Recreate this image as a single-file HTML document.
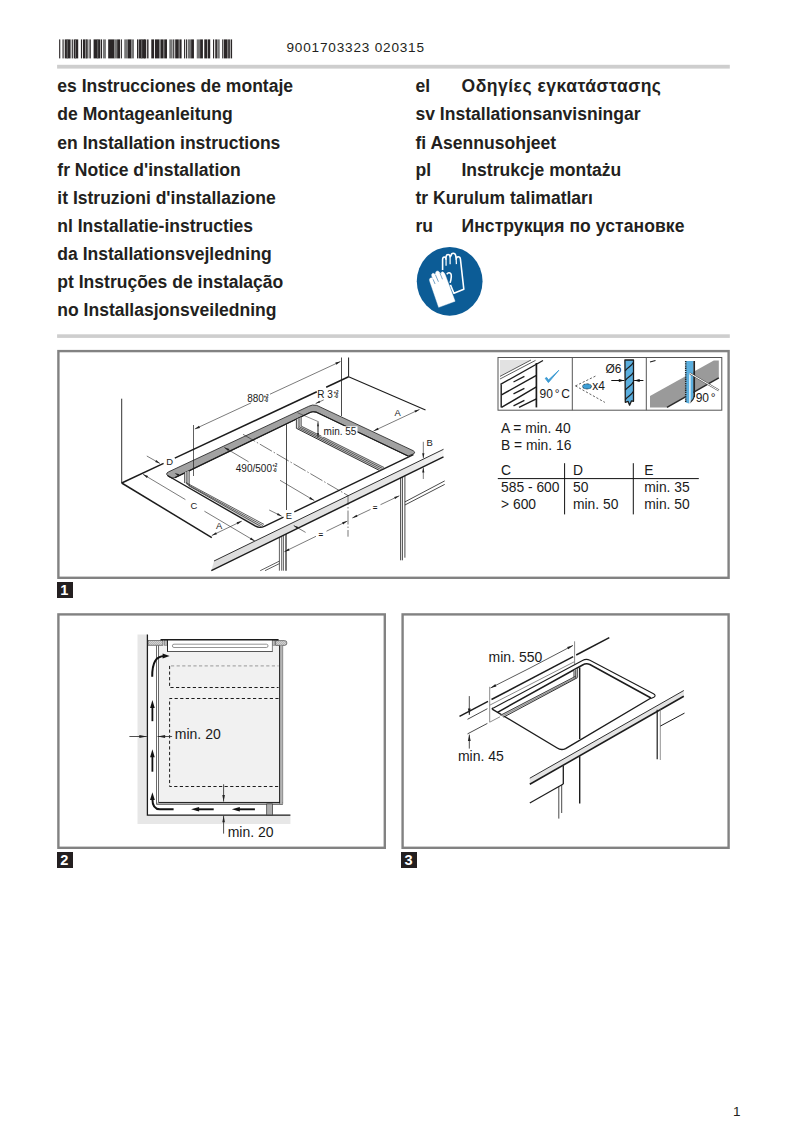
<!DOCTYPE html>
<html lang="en"><head><meta charset="utf-8"><title>Installation instructions</title>
<style>
html,body{margin:0;padding:0;background:#fff;}
body{width:802px;height:1134px;position:relative;overflow:hidden;font-family:"Liberation Sans",sans-serif;color:#231f20;}
.h{position:absolute;font-weight:bold;font-size:17.55px;line-height:20px;white-space:nowrap;color:#231f20;}
.num{position:absolute;left:286.5px;top:37.5px;font-size:13.6px;line-height:20px;letter-spacing:0.8px;color:#231f20;white-space:nowrap;}
.rule{position:absolute;left:57px;width:673px;height:3.5px;background:#cfcfcf;}
.frame{position:absolute;border:2.4px solid #858585;box-sizing:border-box;}
.lab{position:absolute;width:15.8px;height:15.8px;background:#231f20;color:#fff;font-weight:bold;font-size:14.6px;line-height:16.2px;text-align:center;text-indent:-1.2px;}
.pg{position:absolute;left:733px;top:1102.8px;font-size:13.5px;line-height:18px;}
svg{position:absolute;left:0;top:0;}
#pg{position:absolute;left:0;top:0;width:802px;height:1134px;}
svg text{font-family:"Liberation Sans",sans-serif;}
</style></head><body><div id="pg">

<div class="num">9001703323 020315</div>
<div class="h" style="left:57.3px;top:75.5px">es Instrucciones de montaje</div>
<div class="h" style="left:57.3px;top:104.4px">de Montageanleitung</div>
<div class="h" style="left:57.3px;top:133.4px">en Installation instructions</div>
<div class="h" style="left:57.3px;top:160.3px">fr Notice d'installation</div>
<div class="h" style="left:57.3px;top:188.3px">it Istruzioni d'installazione</div>
<div class="h" style="left:57.3px;top:216.2px">nl Installatie-instructies</div>
<div class="h" style="left:57.3px;top:244.1px">da Installationsvejledning</div>
<div class="h" style="left:57.3px;top:272.1px">pt Instruções de instalação</div>
<div class="h" style="left:57.3px;top:300.0px">no Installasjonsveiledning</div>
<div class="h" style="left:415.5px;top:75.5px">el</div>
<div class="h" style="left:461.5px;top:75.5px;letter-spacing:0.5px;">Οδηγίες εγκατάστασης</div>
<div class="h" style="left:415.5px;top:104.4px">sv Installationsanvisningar</div>
<div class="h" style="left:415.5px;top:133.4px">fi Asennusohjeet</div>
<div class="h" style="left:415.5px;top:160.3px">pl</div>
<div class="h" style="left:461.5px;top:160.3px;">Instrukcje montażu</div>
<div class="h" style="left:415.5px;top:188.3px">tr Kurulum talimatları</div>
<div class="h" style="left:415.5px;top:216.2px">ru</div>
<div class="h" style="left:461.5px;top:216.2px;letter-spacing:0.07px;">Инструкция по установке</div>
<div class="lab" style="left:57px;top:582.2px">1</div>
<div class="lab" style="left:57px;top:852.2px">2</div>
<div class="lab" style="left:401.2px;top:852.2px">3</div>
<div class="pg">1</div>
<svg width="802" height="1134" viewBox="0 0 802 1134">
<g id="rules" fill="#cecece"><rect x="57.1" y="64.8" width="672.7" height="3.8"/><rect x="57.1" y="334.3" width="672.7" height="3.6"/></g>
<g id="frames" fill="none" stroke="#828282" stroke-width="2.4"><rect x="58.4" y="351.1" width="670.2" height="226.7"/><rect x="58.4" y="614.4" width="326.4" height="233.4"/><rect x="402.6" y="614.4" width="326" height="233.4"/></g>
<g id="barcode"><rect x="59.14" y="39.4" width="1.12" height="19" fill="#2a2627"/><rect x="62.51" y="39.4" width="1.12" height="19" fill="#2a2627"/><rect x="64.75" y="39.4" width="5.84" height="19" fill="#2a2627"/><rect x="66.77" y="39.4" width="0.90" height="19" fill="#777"/><rect x="71.71" y="39.4" width="1.12" height="19" fill="#2a2627"/><rect x="73.73" y="39.4" width="4.49" height="19" fill="#2a2627"/><rect x="75.08" y="39.4" width="0.90" height="19" fill="#777"/><rect x="80.91" y="39.4" width="1.12" height="19" fill="#2a2627"/><rect x="82.93" y="39.4" width="2.47" height="19" fill="#2a2627"/><rect x="85.40" y="39.4" width="3.14" height="19" fill="#777"/><rect x="86.30" y="39.4" width="0.90" height="19" fill="#2a2627"/><rect x="89.44" y="39.4" width="1.35" height="19" fill="#2a2627"/><rect x="93.59" y="39.4" width="6.73" height="19" fill="#2a2627"/><rect x="97.30" y="39.4" width="0.90" height="19" fill="#777"/><rect x="100.89" y="39.4" width="1.12" height="19" fill="#2a2627"/><rect x="102.91" y="39.4" width="3.03" height="19" fill="#777"/><rect x="108.18" y="39.4" width="6.17" height="19" fill="#2a2627"/><rect x="114.35" y="39.4" width="2.81" height="19" fill="#777"/><rect x="117.16" y="39.4" width="3.03" height="19" fill="#2a2627"/><rect x="121.09" y="39.4" width="0.90" height="19" fill="#2a2627"/><rect x="124.23" y="39.4" width="3.59" height="19" fill="#777"/><rect x="127.82" y="39.4" width="3.59" height="19" fill="#2a2627"/><rect x="131.41" y="39.4" width="2.58" height="19" fill="#777"/><rect x="137.02" y="39.4" width="1.46" height="19" fill="#2a2627"/><rect x="139.04" y="39.4" width="5.61" height="19" fill="#2a2627"/><rect x="141.29" y="39.4" width="0.90" height="19" fill="#777"/><rect x="144.00" y="39.4" width="2.24" height="19" fill="#2a2627"/><rect x="147.14" y="39.4" width="1.35" height="19" fill="#2a2627"/><rect x="151.29" y="39.4" width="2.81" height="19" fill="#2a2627"/><rect x="155.00" y="39.4" width="4.15" height="19" fill="#2a2627"/><rect x="159.15" y="39.4" width="1.68" height="19" fill="#777"/><rect x="160.83" y="39.4" width="2.81" height="19" fill="#2a2627"/><rect x="164.20" y="39.4" width="2.81" height="19" fill="#2a2627"/><rect x="169.25" y="39.4" width="3.37" height="19" fill="#777"/><rect x="173.18" y="39.4" width="1.12" height="19" fill="#2a2627"/><rect x="175.20" y="39.4" width="3.59" height="19" fill="#2a2627"/><rect x="179.35" y="39.4" width="2.24" height="19" fill="#2a2627"/><rect x="184.06" y="39.4" width="1.12" height="19" fill="#2a2627"/><rect x="186.08" y="39.4" width="1.12" height="19" fill="#2a2627"/><rect x="187.99" y="39.4" width="3.14" height="19" fill="#777"/><rect x="191.13" y="39.4" width="2.81" height="19" fill="#2a2627"/><rect x="196.74" y="39.4" width="3.37" height="19" fill="#777"/><rect x="200.11" y="39.4" width="2.81" height="19" fill="#2a2627"/><rect x="204.26" y="39.4" width="3.14" height="19" fill="#2a2627"/><rect x="207.97" y="39.4" width="2.24" height="19" fill="#2a2627"/><rect x="213.02" y="39.4" width="1.12" height="19" fill="#2a2627"/><rect x="215.26" y="39.4" width="1.68" height="19" fill="#2a2627"/><rect x="217.17" y="39.4" width="2.58" height="19" fill="#777"/><rect x="222.22" y="39.4" width="1.12" height="19" fill="#2a2627"/><rect x="223.90" y="39.4" width="3.70" height="19" fill="#2a2627"/><rect x="228.17" y="39.4" width="1.68" height="19" fill="#2a2627"/><rect x="230.63" y="39.4" width="1.46" height="19" fill="#2a2627"/></g>
<g id="glove"><g transform="translate(405,240) scale(0.11222)">
<ellipse cx="398" cy="368" rx="293" ry="306" fill="#0c5c96"/>
<path d="M335,268 L335,175 Q336,152 350,152 Q364,152 366,172 L366,150 Q368,130 384,130 Q400,130 402,150 L410,140 Q412,118 430,118 Q448,118 452,140 L456,170 Q458,150 474,150 Q492,150 494,172 L524,438 L436,474 L405,400" fill="none" stroke="#fff" stroke-width="14" stroke-linejoin="round"/>
<path d="M372,305 Q392,282 408,300 Q420,320 402,382" fill="none" stroke="#fff" stroke-width="14"/>
<path d="M366,172 L366,230 M402,150 L402,215 M456,170 L458,215" stroke="#fff" stroke-width="11" fill="none"/>
<path d="M300,600 L222,372 Q212,345 228,338 Q240,334 250,350 L238,320 Q234,300 248,296 Q262,294 270,312 L272,296 Q272,278 288,276 Q302,276 310,292 L322,300 Q322,282 336,284 Q350,288 358,310 L400,420 L446,546 Z" fill="#fff" stroke="#fff" stroke-width="4" stroke-linejoin="round"/>
<path d="M250,350 L268,392 M272,312 L298,372 M312,296 L334,350" stroke="#0c5c96" stroke-width="5" fill="none"/>
</g></g>
<g id="fig1"><line x1="121.7" y1="398.7" x2="121.7" y2="483" stroke="#1c1c1c" stroke-width="0.9" />
<line x1="121.7" y1="483.0" x2="163.6" y2="463.4" stroke="#1c1c1c" stroke-width="1.5" />
<line x1="174.8" y1="458.1" x2="316.8" y2="391.7" stroke="#1c1c1c" stroke-width="1.5" />
<line x1="326.2" y1="387.3" x2="348.6" y2="376.8" stroke="#1c1c1c" stroke-width="1.5" />
<line x1="121.7" y1="483" x2="211.8" y2="537.6" stroke="#1c1c1c" stroke-width="1.5" />
<line x1="348.6" y1="357.5" x2="348.6" y2="376.8" stroke="#1c1c1c" stroke-width="1.0" />
<line x1="341.5" y1="357.5" x2="341.5" y2="416" stroke="#1c1c1c" stroke-width="0.8" />
<line x1="348.6" y1="376.8" x2="425.5" y2="410" stroke="#1c1c1c" stroke-width="1.2" />
<line x1="286.5" y1="424.3" x2="286.5" y2="510" stroke="#1c1c1c" stroke-width="0.8" />
<line x1="251.1" y1="402.9" x2="194.8" y2="429.0" stroke="#222" stroke-width="0.6"/><polygon points="194.8,429.0 199.0,425.8 200.0,427.9" fill="#222"/>
<line x1="270.0" y1="394.2" x2="340.5" y2="361.5" stroke="#222" stroke-width="0.6"/><polygon points="340.5,361.5 336.3,364.7 335.3,362.6" fill="#222"/>
<path d="M166.6,474.2 Q166.4,472.9 168.7,471.8 L308.7,406.3 Q312.4,404.2 316.8,405.4 L413.2,450.7 Q416,452.2 413.8,453.8 L408,456 L316.4,412.2 Q312.4,411.2 310,412.5 L175,477.6 L172,478.2 Q167.5,476.8 166.6,474.2 Z" fill="#a2a2a2" stroke="#1c1c1c" stroke-width="0.8" stroke-linejoin="round"/>
<path d="M175,477.6 L310,412.5 Q312.4,411.2 316.4,412.2 L408,456" fill="none" stroke="#1c1c1c" stroke-width="1.2"/>
<line x1="193.5" y1="425" x2="193.5" y2="476" stroke="#1c1c1c" stroke-width="0.7" />
<polygon points="296.4,419.3 301.2,417.2 301.2,426.1 384.1,467.5 378.9,470.2 296.4,428.3" fill="#d4d4d4"/>
<line x1="296.4" y1="419.3" x2="296.4" y2="428.3" stroke="#1c1c1c" stroke-width="0.8" />
<line x1="299" y1="418.2" x2="299" y2="427.2" stroke="#1c1c1c" stroke-width="0.7" />
<line x1="301.2" y1="417.2" x2="301.2" y2="426.1" stroke="#1c1c1c" stroke-width="0.7" />
<line x1="301.2" y1="426.1" x2="384.1" y2="467.5" stroke="#1c1c1c" stroke-width="0.7" />
<line x1="299.6" y1="426.9" x2="382.4" y2="468.4" stroke="#1c1c1c" stroke-width="0.7" />
<line x1="298" y1="427.6" x2="380.6" y2="469.3" stroke="#1c1c1c" stroke-width="0.7" />
<line x1="296.4" y1="428.3" x2="378.9" y2="470.2" stroke="#1c1c1c" stroke-width="0.9" />
<polygon points="184.6,472.6 189.2,470.5 189.2,485.6 262,525.4 256,526.2 184.6,483" fill="#d4d4d4"/>
<line x1="184.6" y1="472.4" x2="184.6" y2="483" stroke="#1c1c1c" stroke-width="0.7" />
<line x1="186.9" y1="471.4" x2="186.9" y2="484.3" stroke="#1c1c1c" stroke-width="0.7" />
<line x1="189.2" y1="470.4" x2="189.2" y2="485.6" stroke="#1c1c1c" stroke-width="0.7" />
<line x1="186" y1="482.6" x2="264" y2="524.4" stroke="#1c1c1c" stroke-width="0.7" />
<line x1="187.2" y1="484.3" x2="263" y2="525.6" stroke="#1c1c1c" stroke-width="0.7" />
<line x1="188.5" y1="485.7" x2="261.5" y2="526.8" stroke="#1c1c1c" stroke-width="0.7" />
<path d="M167.5,475.5 L255.5,526.2 Q259.9,528.6 264.8,526.1 L283.5,517.1" fill="none" stroke="#1c1c1c" stroke-width="1.4"/>
<line x1="294.3" y1="511.9" x2="413.4" y2="454.6" stroke="#1c1c1c" stroke-width="1.4" />
<line x1="146.8" y1="456.0" x2="159.9" y2="463.4" stroke="#222" stroke-width="0.6"/><polygon points="159.9,463.4 155.2,462.0 156.3,460.1" fill="#222"/>
<polygon points="174.6,473.0 179.3,474.3 178.3,476.3" fill="#222"/>
<line x1="185.4" y1="499.6" x2="143.0" y2="474.3" stroke="#222" stroke-width="0.6"/><polygon points="143.0,474.3 148.1,476.0 146.9,478.0" fill="#222"/>
<line x1="204.4" y1="511.2" x2="254.9" y2="541.1" stroke="#222" stroke-width="0.6"/><polygon points="254.9,541.1 249.8,539.4 251.0,537.5" fill="#222"/>
<line x1="248.6" y1="461.8" x2="224.3" y2="447.4" stroke="#222" stroke-width="0.6"/><polygon points="224.3,447.4 229.4,449.1 228.2,451.0" fill="#222"/>
<line x1="280.0" y1="480.3" x2="314.3" y2="500.6" stroke="#222" stroke-width="0.6"/><polygon points="314.3,500.6 309.2,498.9 310.4,497.0" fill="#222"/>
<line x1="373.5" y1="431.0" x2="419.6" y2="409.4" stroke="#222" stroke-width="0.6"/><polygon points="419.6,409.4 415.4,412.6 414.4,410.6" fill="#222"/><polygon points="373.5,431.0 378.7,429.8 377.7,427.8" fill="#222"/>
<line x1="211.8" y1="535.5" x2="241.8" y2="521.1" stroke="#222" stroke-width="0.6"/><polygon points="241.8,521.1 237.6,524.4 236.6,522.3" fill="#222"/><polygon points="211.8,535.5 217.0,534.3 216.0,532.2" fill="#222"/>
<line x1="269.2" y1="510.0" x2="281.7" y2="516.2" stroke="#222" stroke-width="0.6"/><polygon points="281.7,516.2 276.9,515.1 277.9,513.1" fill="#222"/>
<line x1="423.3" y1="441.8" x2="423.3" y2="458.2" stroke="#222" stroke-width="0.6"/><polygon points="423.3,458.2 422.2,453.2 424.4,453.2" fill="#222"/>
<line x1="423.3" y1="479.0" x2="423.3" y2="467.6" stroke="#222" stroke-width="0.6"/><polygon points="423.3,467.6 424.4,472.6 422.2,472.6" fill="#222"/>
<defs><linearGradient id="wf" x1="0" x2="1" y1="0" y2="0"><stop offset="0" stop-color="#dcdcdc"/><stop offset="0.85" stop-color="#e6e6e6"/><stop offset="1" stop-color="#f4f4f4"/></linearGradient></defs>
<polygon points="214,561 443.5,449.3 443.5,456.8 211.3,570.7" fill="url(#wf)"/>
<line x1="214" y1="561" x2="443.5" y2="449.3" stroke="#1c1c1c" stroke-width="0.9" />
<line x1="211.3" y1="570.7" x2="443.5" y2="456.8" stroke="#1c1c1c" stroke-width="1.5" />
<path d="M243,434.3 L348,495.6 L348,536.7" fill="none" stroke="#1c1c1c" stroke-width="0.6" stroke-dasharray="14 2 1.5 2"/>
<line x1="305.6" y1="532.4" x2="293.7" y2="525.5" stroke="#222" stroke-width="0.6"/><polygon points="293.7,525.5 298.4,527.0 297.3,528.9" fill="#222"/>
<line x1="316.0" y1="536.3" x2="284.4" y2="551.7" stroke="#222" stroke-width="0.6"/><polygon points="284.4,551.7 288.6,548.4 289.6,550.5" fill="#222"/>
<line x1="326.5" y1="531.2" x2="347.3" y2="521.1" stroke="#222" stroke-width="0.6"/><polygon points="347.3,521.1 343.1,524.4 342.1,522.3" fill="#222"/>
<line x1="370.5" y1="509.4" x2="352.3" y2="518.0" stroke="#222" stroke-width="0.6"/><polygon points="352.3,518.0 356.5,514.7 357.5,516.8" fill="#222"/>
<line x1="380.5" y1="504.7" x2="399.3" y2="495.8" stroke="#222" stroke-width="0.6"/><polygon points="399.3,495.8 395.1,499.1 394.1,497.0" fill="#222"/>
<line x1="279.4" y1="537.3" x2="279.4" y2="570.7" stroke="#1c1c1c" stroke-width="0.7" />
<line x1="281.7" y1="536.2" x2="281.7" y2="570.7" stroke="#1c1c1c" stroke-width="0.7" />
<line x1="283.4" y1="535.3" x2="283.4" y2="570.7" stroke="#1c1c1c" stroke-width="0.7" />
<line x1="286" y1="534.1" x2="286" y2="570.7" stroke="#1c1c1c" stroke-width="1.2" />
<line x1="260.2" y1="570.7" x2="279.4" y2="561.1" stroke="#1c1c1c" stroke-width="0.7" />
<line x1="265" y1="570.7" x2="279.4" y2="563.6" stroke="#1c1c1c" stroke-width="0.7" />
<line x1="400.6" y1="477.8" x2="400.6" y2="560.3" stroke="#1c1c1c" stroke-width="0.8" />
<line x1="402.4" y1="477.0" x2="402.4" y2="560.3" stroke="#1c1c1c" stroke-width="0.8" />
<line x1="404.9" y1="475.7" x2="404.9" y2="557.7" stroke="#1c1c1c" stroke-width="0.8" />
<line x1="404.9" y1="501.9" x2="444.7" y2="480.9" stroke="#1c1c1c" stroke-width="0.8" />
<line x1="404.9" y1="505" x2="444.7" y2="484.4" stroke="#1c1c1c" stroke-width="0.8" />
<line x1="297.5" y1="412.7" x2="318.7" y2="421.8" stroke="#1c1c1c" stroke-width="0.5" />
<line x1="318.0" y1="432.0" x2="318.0" y2="421.8" stroke="#222" stroke-width="0.6"/><polygon points="318.0,421.8 319.0,426.4 317.0,426.4" fill="#222"/>
<line x1="318.0" y1="427.0" x2="318.0" y2="437.4" stroke="#222" stroke-width="0.6"/><polygon points="318.0,437.4 317.0,432.8 319.0,432.8" fill="#222"/>
<rect x="321.5" y="426.3" width="36" height="10.5" fill="#fff"/>
<line x1="323.7" y1="399.9" x2="315.6" y2="403.6" stroke="#222" stroke-width="0.6"/><polygon points="315.6,403.6 319.4,400.8 320.2,402.6" fill="#222"/>
<g font-size="10" fill="#1a1a1a">
<text x="247.2" y="401.8" font-size="10" >880</text>
<text x="263.6" y="397.6" font-size="4.6" letter-spacing="-0.3" font-weight="bold">+2</text>
<text x="264.2" y="401.8" font-size="4.6" letter-spacing="-0.3" font-weight="bold">-0</text>
<text x="317.2" y="398" font-size="10" >R 3</text>
<text x="333.6" y="393.6" font-size="4.6" letter-spacing="-0.3" font-weight="bold">+2</text>
<text x="334.2" y="398" font-size="4.6" letter-spacing="-0.3" font-weight="bold">-0</text>
<text x="323.6" y="435.2" font-size="10" >min. 55</text>
<text x="235.8" y="471.6" font-size="10" >490/500</text>
<text x="272.3" y="467.4" font-size="4.6" letter-spacing="-0.3" font-weight="bold">+2</text>
<text x="272.9" y="471.6" font-size="4.6" letter-spacing="-0.3" font-weight="bold">-0</text>
<text x="166.3" y="464.5" font-size="9.4" >D</text>
<text x="190.6" y="508.6" font-size="9.4" >C</text>
<text x="285.8" y="518.7" font-size="9.4" >E</text>
<text x="394.6" y="416" font-size="9.4" >A</text>
<text x="216" y="528.6" font-size="9.4" >A</text>
<text x="426.5" y="445.6" font-size="9.4" >B</text>
<text x="318.5" y="537" font-size="8" font-weight="bold">=</text>
<text x="372.8" y="510" font-size="8" font-weight="bold">=</text>
</g></g>
<g id="icons"><rect x="498" y="357.5" width="223.8" height="52.7" fill="#fff" stroke="#555" stroke-width="1"/>
<line x1="572.3" y1="357.5" x2="572.3" y2="410.2" stroke="#555" stroke-width="1" />
<line x1="646.3" y1="357.5" x2="646.3" y2="410.2" stroke="#555" stroke-width="1" />
<polygon points="500,360 531,360 500,376.4" fill="#e2e2e2"/>
<line x1="500" y1="376.4" x2="531" y2="360" stroke="#333" stroke-width="0.8" />
<line x1="500" y1="379" x2="535.5" y2="360.4" stroke="#333" stroke-width="0.8" />
<line x1="500.5" y1="384.4" x2="543" y2="360.5" stroke="#1c1c1c" stroke-width="1.4" />
<line x1="536.4" y1="363" x2="536.4" y2="407.4" stroke="#1c1c1c" stroke-width="1.7" />
<line x1="501.2" y1="384.4" x2="501.2" y2="407.4" stroke="#1c1c1c" stroke-width="1.4" />
<line x1="501.5" y1="394.9" x2="536.4" y2="375.4" stroke="#1c1c1c" stroke-width="1.4" />
<line x1="501.5" y1="407.4" x2="536.4" y2="386.9" stroke="#1c1c1c" stroke-width="1.4" />
<line x1="519" y1="407.4" x2="536.4" y2="398.9" stroke="#1c1c1c" stroke-width="1.4" />
<line x1="513.5" y1="382" x2="524.4" y2="376.4" stroke="#1c1c1c" stroke-width="1.3" />
<line x1="513.5" y1="393.9" x2="524.4" y2="388.29999999999995" stroke="#1c1c1c" stroke-width="1.3" />
<line x1="513.5" y1="405.9" x2="524.4" y2="400.29999999999995" stroke="#1c1c1c" stroke-width="1.3" />
<path d="M545.2,378.3 L548.4,382.6 L558.8,370.3 L548.5,380 L546.6,377.4 Z" fill="#3b9ad2" stroke="#3b9ad2" stroke-width="0.9" stroke-linejoin="round"/>
<text x="539.6" y="398.3" font-size="12" fill="#1a1a1a">90</text>
<text x="554.8" y="398.3" font-size="12" fill="#1a1a1a">°</text>
<text x="561.3" y="398.3" font-size="12" fill="#1a1a1a">C</text>
<line x1="575.5" y1="385.9" x2="595.9" y2="375.9" stroke="#1c1c1c" stroke-width="0.7" stroke-dasharray="2.2 1.8"/>
<line x1="575.5" y1="385.9" x2="604.9" y2="402.4" stroke="#1c1c1c" stroke-width="0.7" stroke-dasharray="2.2 1.8"/>
<ellipse cx="587" cy="386.4" rx="4.5" ry="2.6" fill="#3f9fd6" stroke="#1c1c1c" stroke-width="0.6" stroke-dasharray="3 1"/>
<text x="592.2" y="389.9" font-size="12" fill="#1a1a1a">x4</text>
<text x="605.4" y="373" font-size="12" fill="#1a1a1a">Ø6</text>
<path d="M624.9,360 L633.5,360 L633.5,401.3 L631.5,400.8 L629.6,405.2 L628,401.3 L625.3,402.3 Z" fill="#5aaede" stroke="#1c1c1c" stroke-width="1.3" stroke-linejoin="round"/>
<path d="M633.3,362.6 C631,367.1 628,366.6 625.2,370.8" fill="none" stroke="#1c1c1c" stroke-width="1.2"/>
<path d="M633.3,372.4 C631,376.9 628,376.4 625.2,380.59999999999997" fill="none" stroke="#1c1c1c" stroke-width="1.2"/>
<path d="M633.3,382 C631,386.5 628,386 625.2,390.2" fill="none" stroke="#1c1c1c" stroke-width="1.2"/>
<path d="M633.3,391.6 C631,396.1 628,395.6 625.2,399.8" fill="none" stroke="#1c1c1c" stroke-width="1.2"/>
<line x1="611.3" y1="380.5" x2="624.3" y2="380.5" stroke="#111" stroke-width="1.0"/><polygon points="624.3,380.5 618.8,381.9 618.8,379.1" fill="#111"/>
<line x1="643.4" y1="380.5" x2="634.2" y2="380.5" stroke="#111" stroke-width="1.0"/><polygon points="634.2,380.5 639.7,379.1 639.7,381.9" fill="#111"/>
<polygon points="650,395.9 713.8,360.5 718.8,360.5 718.8,377.9 667,407.4 650,407.4" fill="#9a9a9a"/>
<line x1="667" y1="407.4" x2="718.8" y2="377.9" stroke="#2a2a2a" stroke-width="1.5" />
<line x1="650" y1="362" x2="655.5" y2="360.5" stroke="#1c1c1c" stroke-width="1.1" />
<path d="M685.6,361 L693.4,361 L693.4,398 L689,403.4 L685.6,402.4 Z" fill="#5aaede"/>
<line x1="694.2" y1="361" x2="694.2" y2="397" stroke="#222" stroke-width="1.7" />
<path d="M694.5,396 Q693.5,400 689.5,403.4" fill="none" stroke="#222" stroke-width="1.1"/>
<line x1="685.7" y1="361" x2="685.7" y2="402" stroke="#222" stroke-width="1.5" stroke-dasharray="1.3 0.9"/>
<line x1="689.9" y1="373.4" x2="689.9" y2="407" stroke="#fff" stroke-width="1.3" />
<line x1="689.9" y1="373.4" x2="718.8" y2="390.4" stroke="#555" stroke-width="1.9" />
<line x1="689.9" y1="373.4" x2="718.8" y2="390.4" stroke="#fff" stroke-width="1.0" />
<text x="695.7" y="402" font-size="12" fill="#1a1a1a">90</text>
<text x="710.8" y="402" font-size="12" fill="#1a1a1a">°</text></g>
<g id="table"><g font-size="13.6" fill="#1a1a1a">
<text x="501" y="433" font-size="13.85" >A = min. 40</text>
<text x="501" y="449.6" font-size="13.85" >B = min. 16</text>
<text x="501" y="474.5" font-size="13.85" >C</text>
<text x="573" y="474.5" font-size="13.85" >D</text>
<text x="644.3" y="474.5" font-size="13.85" >E</text>
<text x="501" y="491.7" font-size="13.85" >585 - 600</text>
<text x="573" y="491.7" font-size="13.85" >50</text>
<text x="644.3" y="491.7" font-size="13.85" >min. 35</text>
<text x="501" y="508.6" font-size="13.85" >&gt; 600</text>
<text x="573" y="508.6" font-size="13.85" >min. 50</text>
<text x="644.3" y="508.6" font-size="13.85" >min. 50</text>
</g>
<line x1="497.8" y1="478.6" x2="698.8" y2="478.6" stroke="#111" stroke-width="1.0" />
<line x1="564.6" y1="463.2" x2="564.6" y2="514.4" stroke="#111" stroke-width="1.0" />
<line x1="633.3" y1="463.2" x2="633.3" y2="514.4" stroke="#111" stroke-width="1.0" /></g>
<g id="fig2"><polygon points="137.5,634.4 147.4,634.4 147.4,815.1 290.4,815.1 290.4,823.9 137.5,823.9" fill="#e7e7e7"/>
<rect x="159" y="645" width="120.3" height="157.5" fill="#f1f1f1"/>
<path d="M147.4,634.4 L147.4,815.1 L290.4,815.1" fill="none" stroke="#1c1c1c" stroke-width="1.3"/>
<defs><pattern id="h" width="2" height="2" patternUnits="userSpaceOnUse"><rect width="2" height="2" fill="#d2d2d2"/><path d="M0,2 L2,0" stroke="#999" stroke-width="0.5"/></pattern></defs>
<rect x="148" y="640.6" width="15" height="4.6" fill="url(#h)" stroke="#333" stroke-width="0.6"/>
<rect x="164.3" y="640.6" width="2.8" height="4.6" fill="#bbb" stroke="#555" stroke-width="0.5"/>
<rect x="272.6" y="640.6" width="2.4" height="4.6" fill="#bbb" stroke="#555" stroke-width="0.5"/>
<path d="M275.6,640.6 L284.5,640.6 Q286.9,640.6 286.9,643 Q286.9,645.4 284.5,645.4 L275.6,645.4 Z" fill="url(#h)" stroke="#333" stroke-width="0.6"/>
<rect x="167.4" y="640" width="105" height="11.4" fill="#fff"/>
<line x1="167.5" y1="640" x2="167.5" y2="651.9" stroke="#222" stroke-width="1.0" />
<line x1="167.2" y1="651.5" x2="272.7" y2="651.5" stroke="#444" stroke-width="0.9" />
<line x1="272.4" y1="640" x2="272.4" y2="651.9" stroke="#666" stroke-width="0.8" />
<line x1="160.5" y1="639.7" x2="278.6" y2="639.7" stroke="#1c1c1c" stroke-width="1.5" />
<rect x="172.4" y="644.2" width="95.6" height="3.3" rx="1.6" fill="#fff" stroke="#666" stroke-width="0.7"/>
<line x1="156.5" y1="645.2" x2="156.5" y2="804.2" stroke="#6a6a6a" stroke-width="1.0" />
<line x1="158.5" y1="645.2" x2="158.5" y2="802.4" stroke="#6a6a6a" stroke-width="1.0" />
<rect x="157" y="802.4" width="125.5" height="1.8" fill="#c4c4c4"/>
<line x1="158.4" y1="802.45" x2="282.3" y2="802.45" stroke="#1c1c1c" stroke-width="1.0" />
<line x1="156.4" y1="804.3" x2="282.9" y2="804.3" stroke="#333" stroke-width="0.8" />
<rect x="280" y="645.6" width="2.6" height="158" fill="#b5b5b5"/>
<line x1="279.6" y1="645.6" x2="279.6" y2="803.4" stroke="#1c1c1c" stroke-width="1.0" />
<line x1="282.7" y1="645.6" x2="282.7" y2="803.9" stroke="#555" stroke-width="0.6" />
<rect x="266.7" y="803.9" width="5.9" height="11" fill="#adadad" stroke="#333" stroke-width="0.7"/>
<line x1="171" y1="665.9" x2="278.6" y2="665.9" stroke="#aaa" stroke-width="1.2" stroke-dasharray="3.2 2.4"/>
<path d="M169.6,665.9 L169.6,687.5 L278.6,687.5" fill="none" stroke="#1c1c1c" stroke-width="1.0" stroke-dasharray="3.2 2.4"/>
<path d="M278.6,698.5 L169.6,698.5 L169.6,786.5 L278.6,786.5" fill="none" stroke="#1c1c1c" stroke-width="1.0" stroke-dasharray="3.2 2.4"/>
<path d="M152.2,676.7 C152.2,662 156,656.4 164.5,656.1" fill="none" stroke="#111" stroke-width="2"/>
<polygon points="169.6,655.9 162.6,653.4 162.6,658.6" fill="#111"/>
<line x1="152.4" y1="705" x2="152.4" y2="721.2" stroke="#111" stroke-width="1.8" />
<polygon points="152.4,700 150.1,708 154.7,708" fill="#111"/>
<line x1="152.4" y1="754.3" x2="152.4" y2="771.7" stroke="#111" stroke-width="1.8" />
<polygon points="152.4,749.3 150.1,757.3 154.7,757.3" fill="#111"/>
<path d="M173.6,809.3 L160,809.3 Q152.4,809.3 152.4,799" fill="none" stroke="#111" stroke-width="2"/>
<polygon points="152.4,792.2 150,800 154.8,800" fill="#111"/>
<line x1="196.1" y1="809.3" x2="213.7" y2="809.3" stroke="#111" stroke-width="1.9" />
<polygon points="191.1,809.3 199.1,807 199.1,811.6" fill="#111"/>
<line x1="236.8" y1="809.3" x2="254.9" y2="809.3" stroke="#111" stroke-width="1.9" />
<polygon points="231.8,809.3 239.8,807 239.8,811.6" fill="#111"/>
<line x1="129.4" y1="736.5" x2="146.8" y2="736.5" stroke="#222" stroke-width="0.8"/><polygon points="146.8,736.5 139.3,738.0 139.3,735.0" fill="#222"/>
<line x1="172.1" y1="736.5" x2="157.6" y2="736.5" stroke="#222" stroke-width="0.8"/><polygon points="157.6,736.5 165.1,735.0 165.1,738.0" fill="#222"/>
<line x1="223.6" y1="784.3" x2="223.6" y2="801.6" stroke="#222" stroke-width="0.8"/><polygon points="223.6,801.6 222.3,795.1 224.9,795.1" fill="#222"/>
<line x1="223.6" y1="833.6" x2="223.6" y2="815.7" stroke="#222" stroke-width="0.8"/><polygon points="223.6,815.7 224.9,822.2 222.3,822.2" fill="#222"/>
<text x="174.8" y="738.7" font-size="14.0" fill="#1a1a1a">min. 20</text>
<text x="227.7" y="837.3" font-size="14.0" fill="#1a1a1a">min. 20</text></g>
<g id="fig3"><line x1="459.5" y1="716.3" x2="488" y2="701.3" stroke="#1c1c1c" stroke-width="1.5" />
<line x1="491.5" y1="699.5" x2="573.2" y2="656.6" stroke="#1c1c1c" stroke-width="1.5" />
<line x1="576.2" y1="655.0" x2="609.3" y2="637.7" stroke="#1c1c1c" stroke-width="1.5" />
<line x1="467.5" y1="719.3" x2="487.4" y2="708.7" stroke="#1c1c1c" stroke-width="0.8" />
<line x1="467.5" y1="733.9" x2="487.4" y2="723.4" stroke="#1c1c1c" stroke-width="0.8" />
<line x1="469.3" y1="696.1" x2="469.3" y2="715.0" stroke="#222" stroke-width="0.8"/><polygon points="469.3,715.0 467.9,708.5 470.7,708.5" fill="#222"/>
<line x1="469.3" y1="748.6" x2="469.3" y2="734.6" stroke="#222" stroke-width="0.8"/><polygon points="469.3,734.6 470.7,741.1 467.9,741.1" fill="#222"/>
<line x1="489.7" y1="686.8" x2="489.7" y2="722.2" stroke="#8c8c8c" stroke-width="1.0" />
<line x1="574.6" y1="641.3" x2="574.6" y2="664" stroke="#8c8c8c" stroke-width="1.0" />
<line x1="489.7" y1="705.2" x2="574.6" y2="661.6" stroke="#8c8c8c" stroke-width="1.0" />
<line x1="489.7" y1="722.2" x2="500" y2="716.8" stroke="#8c8c8c" stroke-width="1.0" />
<line x1="530.0" y1="668.0" x2="490.5" y2="688.0" stroke="#222" stroke-width="0.75"/><polygon points="490.5,688.0 495.3,684.1 496.4,686.4" fill="#222"/>
<line x1="530.0" y1="668.0" x2="573.0" y2="645.4" stroke="#222" stroke-width="0.75"/><polygon points="573.0,645.4 568.3,649.3 567.1,647.0" fill="#222"/>
<polygon points="529.8,778.2 683.8,690.5 683.8,696.3 529.8,784.3" fill="#e3e3e3"/>
<line x1="529.8" y1="778.2" x2="683.8" y2="690.5" stroke="#1c1c1c" stroke-width="0.9" />
<line x1="529.8" y1="784.3" x2="683.8" y2="696.3" stroke="#1c1c1c" stroke-width="1.6" />
<path d="M493,708.3 L582.5,660.5 Q586.1,658.5 589.9,660.2 L653.5,693.8 Q656.5,695.6 653.8,697.3 L651,698.4" fill="none" stroke="#1c1c1c" stroke-width="1.1"/>
<path d="M497.5,712.3 L582.6,665 Q586.1,663 589.9,664.5 L651,698" fill="none" stroke="#1c1c1c" stroke-width="1.5"/>
<path d="M651,698 L565.6,748.6 Q561.2,750.8 557.2,748 L492.6,709.3 Q491.6,708.6 493,708.3" fill="none" stroke="#1c1c1c" stroke-width="1.4"/>
<polygon points="573.9,670.3 577.6,668.4 577.6,677.2 503.5,716.6 500.5,714.8 573.9,677" fill="#cfcfcf"/>
<line x1="573.9" y1="670.3" x2="573.9" y2="677.2" stroke="#1c1c1c" stroke-width="0.7" />
<line x1="575.7" y1="669.4" x2="575.7" y2="678" stroke="#1c1c1c" stroke-width="0.7" />
<line x1="577.6" y1="668.4" x2="577.6" y2="677.2" stroke="#1c1c1c" stroke-width="0.7" />
<line x1="575.7" y1="676.2" x2="500.5" y2="715.3" stroke="#1c1c1c" stroke-width="0.8" />
<line x1="576.3" y1="677.3" x2="502" y2="716.2" stroke="#555" stroke-width="0.6" />
<line x1="577.6" y1="677.6" x2="503.5" y2="717.2" stroke="#1c1c1c" stroke-width="0.9" />
<line x1="579.7" y1="667.5" x2="579.7" y2="739" stroke="#1c1c1c" stroke-width="1.4" />
<line x1="579.7" y1="756.3" x2="579.7" y2="803.6" stroke="#1c1c1c" stroke-width="1.4" />
<line x1="563.3" y1="765.9" x2="563.3" y2="784" stroke="#1c1c1c" stroke-width="1.3" />
<line x1="563.3" y1="784" x2="529.8" y2="802.9" stroke="#1c1c1c" stroke-width="1.2" />
<line x1="558.8" y1="786.3" x2="558.8" y2="818.6" stroke="#1c1c1c" stroke-width="0.8" />
<line x1="561.7" y1="784.8" x2="561.7" y2="813" stroke="#1c1c1c" stroke-width="0.8" />
<line x1="657.2" y1="709.8" x2="657.2" y2="759.2" stroke="#1c1c1c" stroke-width="1.2" />
<line x1="660.3" y1="708.5" x2="660.3" y2="760" stroke="#666" stroke-width="0.7" />
<line x1="660.3" y1="726.1" x2="684.5" y2="713.1" stroke="#1c1c1c" stroke-width="1.0" />
<text x="488.6" y="662.4" font-size="14.0" fill="#1a1a1a">min. 550</text>
<text x="457.9" y="761.3" font-size="14.0" fill="#1a1a1a">min. 45</text></g>
</svg>
</div></body></html>
